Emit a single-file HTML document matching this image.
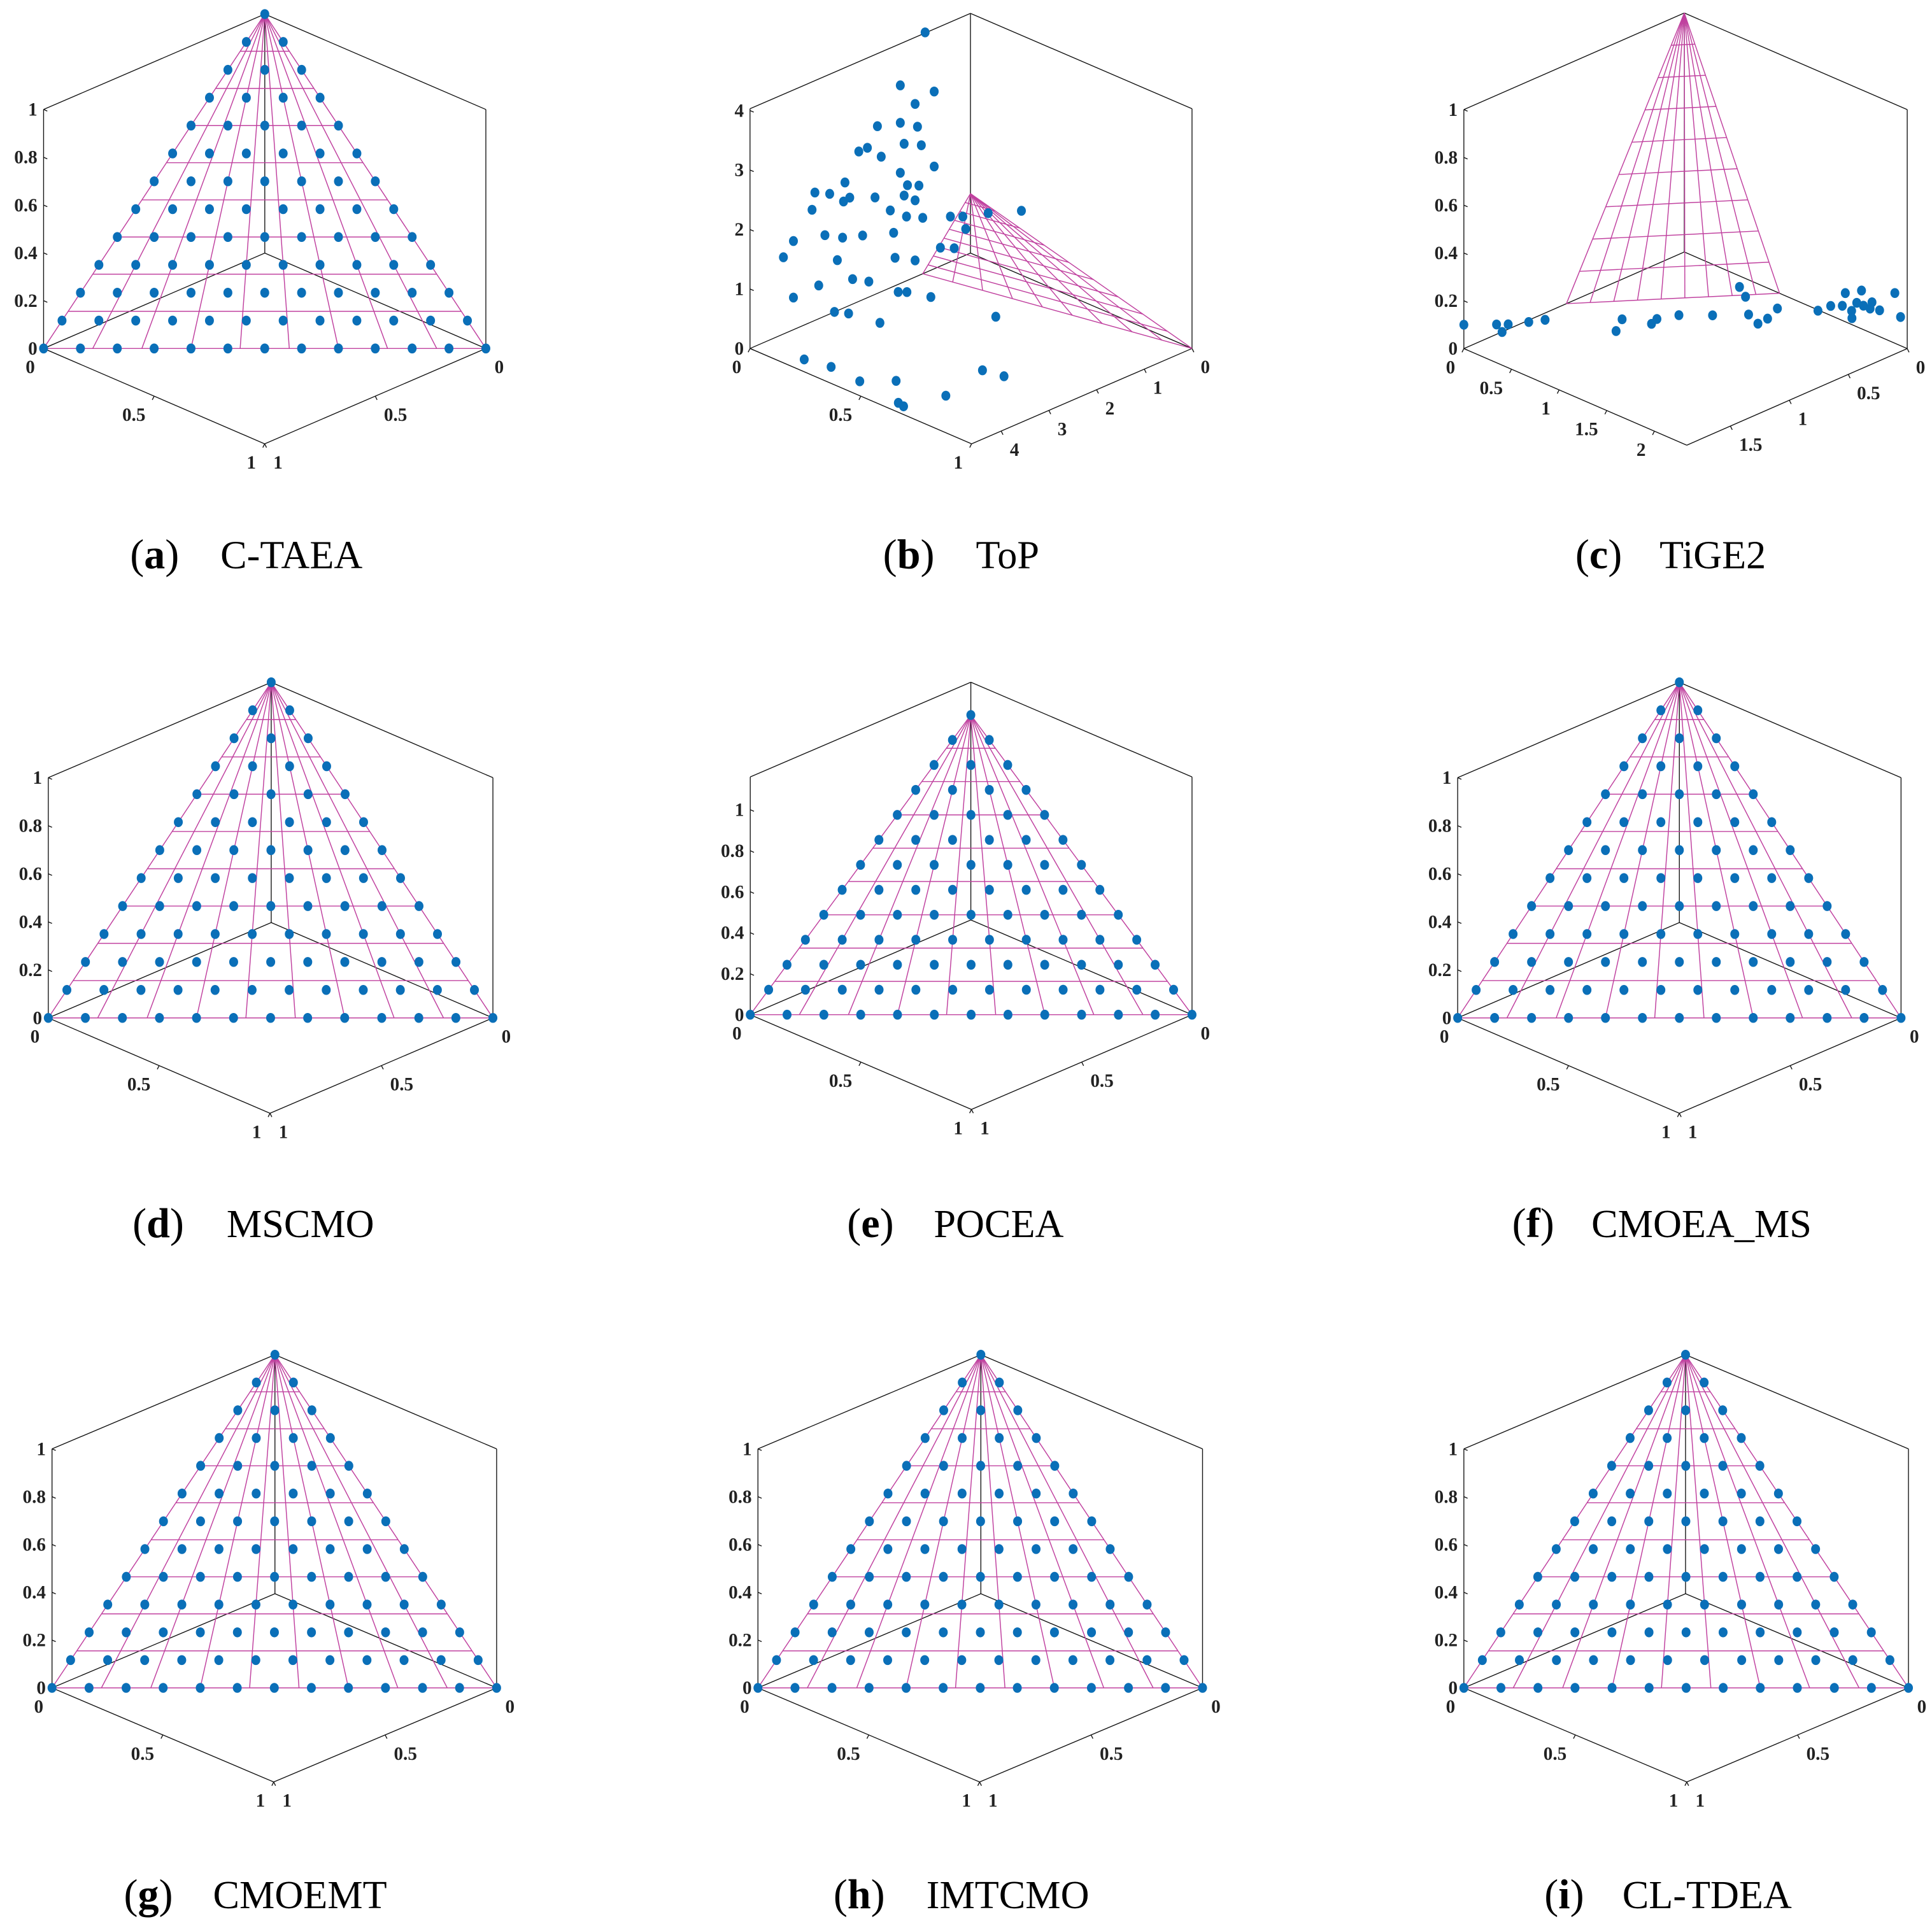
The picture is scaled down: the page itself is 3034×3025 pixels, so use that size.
<!DOCTYPE html>
<html><head><meta charset="utf-8">
<style>
html,body{margin:0;padding:0;background:#fff;}
svg{display:block;}
</style></head>
<body>
<svg id="fig" xmlns="http://www.w3.org/2000/svg" width="3034" height="3025" viewBox="0 0 1560 1555.3" preserveAspectRatio="none" font-family="'Liberation Serif', serif">
<rect x="0" y="0" width="1560" height="1556" fill="#fff"/>
</svg>
<script>
// ---------- data ----------
// shared uniform reference grid (H = 12): row i => u = i/12, j values => v = j/12
const GRID_H = 12;
const gridRows = [
  [0,1,2,3,4,5,6,7,8,9,10,11,12],
  [0,1,2,3,4,5,6,7,8,9,10,11],
  [0,1,2,3,4,5,6,7,8,9,10],
  [0,1,2,3,4,5,6,7,8,9],
  [0,1,2,3,4,5,6,7,8],
  [0,1,2,3,4,5,6,7],
  [0,1,2,3,4,5,6],
  [0,1,2,3,4,5],
  [0,1,2,3,4],
  [0,1,2,3],
  [0,1,2],
  [0,1],
  [0]
];
// ToP (b) solutions
const topF1 = [0.95,1.47,0.76,1.16,1.47,1.95,1.11,2.16,1.39,1.03,2.34,1.87,0.76,1.47,1.08,1.32,2.63,2.95,3.26,2.53,2.0,1.39,1.16,1.68,1.34,1.0,3.32,2.66,3.71,3.92,3.05,2.68,2.26,1.61,1.16,1.58,2.79,3.18,3.71,2.47,2.13,0.42,0.16,0,0.63,0.34,0,0.1,2.85,
  4.32,4.22,4.27,3.88,4.39,4.42,3.72,2.72,2.64,1.28,2.64,2.74,1.70,1.61,1.48];
const topF2 = [0,0,0,0,0,0,0,0,0,0,0,0,0,0,0,0,0,0,0,0,0,0,0,0,0,0,0,0,0,0,0,0,0,0,0,0,0,0,0,0,0,0,0,0.08,0,0,0.23,0,0,
  0.18,0.28,0.42,0.5,0.62,0.65,0.69,0.64,0.72,0.39,0.16,0.04,0.04,0.06,0.14];
const topF3 = [4.04,3.33,2.98,2.91,2.70,2.81,2.51,2.52,2.32,2.17,2.52,2.27,1.72,1.86,1.51,1.60,2.10,2.02,2.15,1.81,1.63,1.45,1.29,1.30,1.08,0.94,1.88,1.79,1.49,1.29,1.36,1.19,1.08,0.90,0.28,0.47,0.85,0.56,0.54,0.42,0.26,0.76,0.67,0.80,0.31,0.2,1.08,0.44,0,
  0,0,0,0,0,0,0,0,0,0,0,0,0,0,0];
// TiGE2 (c) solutions
const tigeF1 = [1.87,1.73,1.78,1.68,1.57,1.48,1.29,1.15,1.07,1.0,0.87,0.73,0.34,0.41,0.57,0.62,0.53,0.39,0.24,0.14,0.09,0.10,0,0,0,0,0,0,0,0,0.17,0];
const tigeF2 = [0,0.17,0.29,0.23,0.31,0.37,0.88,0.77,0.98,0.95,1.02,1.2,1.0,1.15,1.38,1.54,1.53,1.46,1.70,1.71,1.77,1.88,1.81,1.86,1.88,1.95,2.05,2.21,2.27,1.69,1.97,1.97];
const tigeF3 = [0.1,0.1,0.1,0.1,0.1,0.1,0.1,0.1,0.1,0.1,0.1,0.1,0.1,0.1,0.1,0.1,0.1,0.1,0.1,0.1,0.1,0.1,0.1,0.16,0.1,0.1,0.11,0.21,0.12,0.12,0.1,0.13];
const ticksUnit = [0,0.2,0.4,0.6,0.8,1];
const ticksHalf = [0,0.5,1];
const ticksTopZ = [0,1,2,3,4];
const ticksTopU = [0,1,2,3,4];
const ticksTigeV = [0,0.5,1,1.5,2];
const ticksTigeU = [0,0.5,1,1.5];
const MESH_N = 10;

// ---------- layout ----------
const NS = 'http://www.w3.org/2000/svg';
const svg = document.getElementById('fig');
function mk(tag, attrs, parent){
  const e = document.createElementNS(NS, tag);
  for (const k in attrs) e.setAttribute(k, attrs[k]);
  (parent||svg).appendChild(e);
  return e;
}
const panels = [
  {id:'a', label:'a', name:'C-TAEA',  bx:213.8, by:204.4, Lx:-178.6, Ly:77, Rx:178.5, Ry:77, Zh:193, u1:1, v1:1, w1:1, zt:ticksUnit, vt:ticksHalf, ut:ticksHalf, pts:'grid', cx:105, nx:178, cy:459},
  {id:'b', label:'b', name:'ToP',     bx:783.6, by:204.4, Lx:-178,  Ly:77, Rx:178.9, Ry:77, Zh:193.6, u1:4.62, v1:1, w1:4.03, zt:ticksTopZ, vt:ticksHalf, ut:ticksTopU, pts:'top', cx:713, nx:788, cy:459},
  {id:'c', label:'c', name:'TiGE2',   bx:1360, by:203.5, Lx:-178, Ly:78, Rx:180, Ry:78, Zh:193, u1:1.87, v1:2.34, w1:1, zt:ticksUnit, vt:ticksTigeV, ut:ticksTigeU, pts:'tige', cx:1272, nx:1340, cy:459},
  {id:'d', label:'d', name:'MSCMO',   bx:219, by:745, Lx:-180, Ly:77, Rx:179, Ry:77, Zh:194, u1:1, v1:1, w1:1, zt:ticksUnit, vt:ticksHalf, ut:ticksHalf, pts:'grid', cx:107, nx:183, cy:999},
  {id:'e', label:'e', name:'POCEA',   bx:783.9, by:742.9, Lx:-178.1, Ly:76.5, Rx:178.6, Ry:76.5, Zh:192, u1:1, v1:1, w1:1.16, zt:ticksUnit, vt:ticksHalf, ut:ticksHalf, pts:'grid', cx:684, nx:754, cy:999},
  {id:'f', label:'f', name:'CMOEA_MS',bx:1356, by:745, Lx:-179, Ly:77, Rx:179, Ry:77, Zh:194, u1:1, v1:1, w1:1, zt:ticksUnit, vt:ticksHalf, ut:ticksHalf, pts:'grid', cx:1221, nx:1285, cy:999},
  {id:'g', label:'g', name:'CMOEMT',  bx:222, by:1287, Lx:-180, Ly:76, Rx:179, Ry:76, Zh:193, u1:1, v1:1, w1:1, zt:ticksUnit, vt:ticksHalf, ut:ticksHalf, pts:'grid', cx:100, nx:172, cy:1541},
  {id:'h', label:'h', name:'IMTCMO',  bx:792, by:1287, Lx:-180, Ly:76, Rx:179, Ry:76, Zh:193, u1:1, v1:1, w1:1, zt:ticksUnit, vt:ticksHalf, ut:ticksHalf, pts:'grid', cx:673, nx:748, cy:1541},
  {id:'i', label:'i', name:'CL-TDEA', bx:1361, by:1287, Lx:-179, Ly:76, Rx:180, Ry:76, Zh:193, u1:1, v1:1, w1:1, zt:ticksUnit, vt:ticksHalf, ut:ticksHalf, pts:'grid', cx:1247, nx:1310, cy:1541}
];

function drawPanel(p){
  const g = mk('g', {});
  
  
  const P = (u,v,w) => [p.bx + u/p.u1*p.Lx + v/p.v1*p.Rx, p.by + u/p.u1*p.Ly + v/p.v1*p.Ry - w/p.w1*p.Zh];
  const line = (a,b,attrs,name) => {
    const l = mk('line', Object.assign({x1:a[0].toFixed(2), y1:a[1].toFixed(2), x2:b[0].toFixed(2), y2:b[1].toFixed(2)}, attrs), g);
    
    
    return l;
  };
  const box = {stroke:'#111', 'stroke-width':0.7};
  const B0=P(0,0,0), L0=P(p.u1,0,0), R0=P(0,p.v1,0), F0=P(p.u1,p.v1,0);
  const B1=P(0,0,p.w1), L1=P(p.u1,0,p.w1), R1=P(0,p.v1,p.w1);
  line(B0,L0,box,'axis-box-edge');
  line(B0,R0,box,'axis-box-edge');
  line(L0,F0,box,'x-axis-line');
  line(R0,F0,box,'y-axis-line');
  line(B0,B1,box,'axis-box-edge');
  line(L0,L1,box,'z-axis-line');
  line(R0,R1,box,'axis-box-edge');
  line(L1,B1,box,'axis-box-edge');
  line(B1,R1,box,'axis-box-edge');
  p.zt.forEach(t => {
    const q = P(p.u1,0,t);
    line(q,[q[0]+3,q[1]+1.3],box,'z-tick');
    const tx = mk('text', {x:(q[0]-5).toFixed(2), y:(q[1]+5).toFixed(2), 'text-anchor':'end', 'font-size':15, 'font-weight':'bold', fill:'#222'}, g);
    
    
    tx.textContent = String(t);
  });
  p.vt.forEach(t => {
    const q = P(p.u1,t,0);
    line(q,[q[0]-1.5,q[1]+3],box,'x-tick');
    const tx = mk('text', {x:(q[0]-7).toFixed(2), y:(q[1]+20).toFixed(2), 'text-anchor':'end', 'font-size':15, 'font-weight':'bold', fill:'#222'}, g);
    
    
    tx.textContent = String(t);
  });
  p.ut.forEach(t => {
    const q = P(t,p.v1,0);
    line(q,[q[0]+1.5,q[1]+3],box,'y-tick');
    const tx = mk('text', {x:(q[0]+7).toFixed(2), y:(q[1]+20).toFixed(2), 'text-anchor':'start', 'font-size':15, 'font-weight':'bold', fill:'#222'}, g);
    
    
    tx.textContent = String(t);
  });
  const mesh = {stroke:'#c0419f', 'stroke-width':0.75};
  for (let k=0;k<MESH_N;k++){
    const w = k/(MESH_N-1);
    line(P(1-w,0,w), P(0,1-w,w), mesh, 'pf-mesh-row');
  }
  for (let j=0;j<MESH_N;j++){
    const s = j/(MESH_N-1);
    line(P(0,0,1), P(1-s,s,0), mesh, 'pf-mesh-ray');
  }
  const dots = [];
  if (p.pts === 'grid'){
    gridRows.forEach((row,i) => row.forEach(j => dots.push([i/GRID_H, j/GRID_H, 1 - i/GRID_H - j/GRID_H])));
  } else if (p.pts === 'top'){
    topF1.forEach((v,k) => dots.push([topF1[k], topF2[k], topF3[k]]));
  } else {
    tigeF1.forEach((v,k) => dots.push([tigeF1[k], tigeF2[k], tigeF3[k]]));
  }
  dots.forEach(d => {
    const q = P(d[0],d[1],Math.max(0,d[2]));
    const c = mk('ellipse', {cx:q[0].toFixed(2), cy:q[1].toFixed(2), rx:3.6, ry:4, fill:'#0a6fb8'}, g);
    
    
  });
  const cap = mk('text', {x:p.cx, y:p.cy, 'font-size':34, fill:'#000'}, g);
  
  
  const t1 = mk('tspan', {}, cap); t1.textContent = '(';
  const t2 = mk('tspan', {'font-weight':'bold'}, cap); t2.textContent = p.label;
  const t3 = mk('tspan', {}, cap); t3.textContent = ')';
  const nm = mk('text', {x:p.nx, y:p.cy, 'font-size':32, fill:'#000'}, g);
  
  
  nm.textContent = p.name;
}
panels.forEach(drawPanel);
</script>
</body></html>
